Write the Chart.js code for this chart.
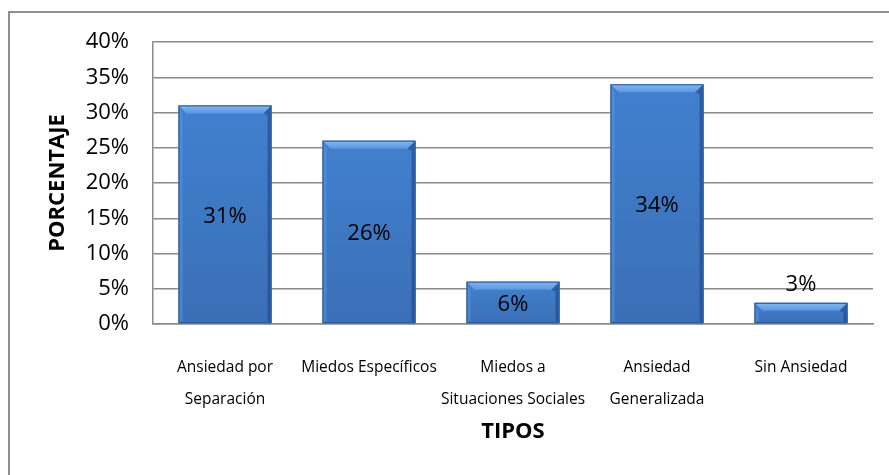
<!DOCTYPE html>
<html>
<head>
<meta charset="utf-8">
<script src="https://cdn.jsdelivr.net/npm/chart.js@4"></script>
<style>
  html, body { margin: 0; padding: 0; background: #fff; }
  #wrap { width: 889px; height: 475px; }
</style>
</head>
<body>
<div id="wrap"><canvas id="tiposChart" width="889" height="475"></canvas></div>
<script>
const categories = [
  ["Ansiedad por", "Separación"],
  "Miedos Específicos",
  ["Miedos a", "Situaciones Sociales"],
  ["Ansiedad", "Generalizada"],
  "Sin Ansiedad",
];
const percentages = [31, 26, 6, 34, 3];
const yTicks = [0, 5, 10, 15, 20, 25, 30, 35, 40];

const FONT = "'Open Sans', 'Noto Sans', sans-serif";

// frame around the whole chart, open at the right and bottom
const framePlugin = {
  id: "frame",
  beforeDraw(chart) {
    const ctx = chart.ctx;
    ctx.save();
    ctx.strokeStyle = "#8f8f8f";
    ctx.lineWidth = 2;
    ctx.strokeRect(9, 12, 1000, 1000);
    ctx.restore();
  },
};

// bevelled look for the bars plus the value labels
const barDecor = {
  id: "barDecor",
  afterDatasetsDraw(chart) {
    const ctx = chart.ctx;
    const meta = chart.getDatasetMeta(0);
    const values = chart.data.datasets[0].data;
    meta.data.forEach((bar, i) => {
      const w = bar.width;
      const l = bar.x - w / 2;
      const r = bar.x + w / 2;
      const t = bar.y;
      const b = bar.base;
      const bev = Math.min(8, (b - t) / 2);
      const side = Math.min(4, bev);
      ctx.save();

      // face
      let g = ctx.createLinearGradient(0, t, 0, b);
      g.addColorStop(0, "#4180cf");
      g.addColorStop(1, "#3a6fb6");
      ctx.fillStyle = g;
      ctx.fillRect(l, t, w, b - t);

      // top bevel
      g = ctx.createLinearGradient(0, t, 0, t + bev);
      g.addColorStop(0, "#86b8f1");
      g.addColorStop(1, "#5a96e0");
      ctx.fillStyle = g;
      ctx.beginPath();
      ctx.moveTo(l, t);
      ctx.lineTo(r, t);
      ctx.lineTo(r - bev, t + bev);
      ctx.lineTo(l + bev, t + bev);
      ctx.closePath();
      ctx.fill();

      // left bevel
      ctx.fillStyle = "rgba(90,150,225,0.55)";
      ctx.beginPath();
      ctx.moveTo(l, t);
      ctx.lineTo(l + side, t + bev);
      ctx.lineTo(l + side, b - 2);
      ctx.lineTo(l, b);
      ctx.closePath();
      ctx.fill();

      // right bevel
      ctx.fillStyle = "rgba(30,70,130,0.55)";
      ctx.beginPath();
      ctx.moveTo(r, t);
      ctx.lineTo(r - bev, t + bev);
      ctx.lineTo(r - side, t + bev + 2);
      ctx.lineTo(r - side, b - 2);
      ctx.lineTo(r, b);
      ctx.closePath();
      ctx.fill();

      ctx.strokeStyle = "#2c5894";
      ctx.lineWidth = 1;
      ctx.strokeRect(l + 0.5, t + 0.5, w - 1, b - t - 1);

      // value label
      ctx.fillStyle = "#000";
      ctx.font = "22px " + FONT;
      ctx.textAlign = "center";
      ctx.textBaseline = "middle";
      const h = b - t;
      const y = h > 30 ? (t + b) / 2 + 2 : t - 18;
      ctx.fillText(values[i] + "%", bar.x, y);
      ctx.restore();
    });
  },
};

new Chart(document.getElementById("tiposChart"), {
  type: "bar",
  data: {
    labels: categories,
    datasets: [
      {
        data: percentages,
        backgroundColor: "#3e7bc8",
        categoryPercentage: 1,
        barPercentage: 0.645,
      },
    ],
  },
  options: {
    responsive: false,
    animation: false,
    events: [],
    layout: { padding: { left: 20, top: 42, right: 16, bottom: 0 } },
    plugins: {
      legend: { display: false },
      tooltip: { enabled: false },
    },
    scales: {
      x: {
        grid: { display: false, drawTicks: false },
        border: { color: "#8a8a8a", width: 1.5 },
        ticks: {
          color: "#000",
          padding: 27,
          maxRotation: 0,
          autoSkip: false,
          font: { family: FONT, size: 15.5, lineHeight: 2.1 },
        },
        title: {
          display: true,
          text: "TIPOS",
          color: "#000",
          font: { family: FONT, size: 22, weight: "bold" },
          padding: { top: 0, bottom: 30 },
        },
        afterFit(scale) {
          scale.height = 151;
        },
      },
      y: {
        min: 0,
        max: 40,
        afterBuildTicks(scale) {
          scale.ticks = yTicks.map((v) => ({ value: v }));
        },
        grid: { color: "#8a8a8a", lineWidth: 1.5, drawTicks: false },
        border: { color: "#8a8a8a", width: 1.5 },
        ticks: {
          color: "#000",
          padding: 24,
          font: { family: FONT, size: 22 },
          callback: (v) => v + "%",
        },
        title: {
          display: true,
          text: "PORCENTAJE",
          color: "#000",
          font: { family: FONT, size: 22, weight: "bold" },
          padding: { top: 25, bottom: 0 },
        },
        afterFit(scale) {
          scale.width = 133;
        },
      },
    },
  },
  plugins: [framePlugin, barDecor],
});
</script>
</body>
</html>
